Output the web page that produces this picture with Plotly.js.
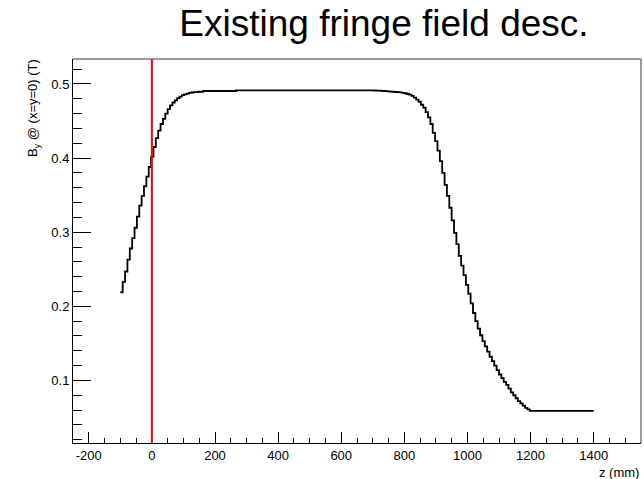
<!DOCTYPE html>
<html>
<head>
<meta charset="utf-8">
<script src="https://cdn.plot.ly/plotly-3.0.1.min.js"></script>
<style>html,body{margin:0;padding:0;background:#fff;}#chart{width:644px;height:479px;}</style>
</head>
<body>
<div id="chart"></div>
<script>
// Histogram definition: bin low edge and width (mm)
var binLow = -100;
var binWidth = 7.5;
// B_y (T) for each 7.5 mm bin from z=-100 to z=1400
var byValues = [
  0.219,0.233,0.247,0.263,0.278,0.292,0.306,0.321,0.336,0.349,
  0.362,0.375,0.388,0.402,0.415,0.427,0.437,0.446,0.453,0.460,
  0.466,0.471,0.475,0.478,0.481,0.483,0.485,0.486,0.487,0.488,
  0.4885,0.489,0.489,0.4895,0.4895,0.4905,0.4905,0.4905,0.4905,0.4905,
  0.4905,0.4905,0.4905,0.4905,0.4905,0.4905,0.4905,0.4905,0.4905,0.4915,
  0.4915,0.4915,0.4915,0.4915,0.4915,0.4915,0.4915,0.4915,0.4915,0.4915,
  0.4915,0.4915,0.4915,0.4915,0.4915,0.4915,0.4915,0.4915,0.4915,0.4915,
  0.4915,0.4915,0.4915,0.4915,0.4915,0.4915,0.4915,0.4915,0.4915,0.4915,
  0.4915,0.4915,0.4915,0.4915,0.4915,0.4915,0.4915,0.4915,0.4915,0.4915,
  0.4915,0.4915,0.4915,0.4915,0.4915,0.4915,0.4915,0.4915,0.4915,0.4915,
  0.4915,0.4915,0.4915,0.4915,0.4915,0.4915,0.4915,0.4912,0.491,0.491,
  0.4908,0.4905,0.4903,0.490,0.4898,0.4895,0.4892,0.489,0.4886,0.488,
  0.4875,0.4865,0.4855,0.484,0.4815,0.479,0.476,0.472,0.468,0.462,
  0.455,0.446,0.434,0.423,0.410,0.396,0.380,0.364,0.349,0.333,
  0.316,0.299,0.284,0.268,0.255,0.242,0.229,0.217,0.204,0.191,
  0.180,0.170,0.161,0.153,0.146,0.139,0.132,0.126,0.120,0.114,
  0.108,0.103,0.098,0.094,0.089,0.084,0.080,0.076,0.072,0.069,
  0.066,0.063,0.061,0.059,0.059,0.059,0.059,0.059,0.059,0.059,
  0.059,0.059,0.059,0.059,0.059,0.059,0.059,0.059,0.059,0.059,
  0.059,0.059,0.059,0.059,0.059,0.059,0.059,0.059,0.059,0.059
];
// Vertical marker position (mm)
var markerZ = [0];
var xRange = [-250, 1550];
var yRange = [0.0156, 0.5337];
var xTickVals = [-200, 0, 200, 400, 600, 800, 1000, 1200, 1400];
var xTickText = ['-200', '0', '200', '400', '600', '800', '1000', '1200', '1400'];
var titleText = 'Existing fringe field desc.';
var xTitle = 'z (mm)';
var yTitle = 'B<sub>y</sub> @ (x=y=0) (T)';

// build step histogram edges
var xs = [], ys = [];
for (var i = 0; i < byValues.length; i++) {
  xs.push(binLow + i * binWidth);
  ys.push(byValues[i]);
}
xs.push(binLow + byValues.length * binWidth);
ys.push(byValues[byValues.length - 1]);

var font = 'Liberation Sans, Arial, Helvetica, sans-serif';

var trace = {
  x: xs, y: ys, type: 'scatter', mode: 'lines',
  line: {shape: 'hv', color: '#000000', width: 1.8},
  hoverinfo: 'skip'
};

var layout = {
  width: 644, height: 479,
  margin: {l: 73, r: 3, t: 59, b: 36},
  paper_bgcolor: '#ffffff', plot_bgcolor: '#ffffff',
  showlegend: false,
  font: {family: font, size: 13, color: '#000'},
  title: {text: titleText, font: {family: font, size: 37, color: '#000'},
          x: 384/644, xanchor: 'center', xref: 'container', yref: 'container', y: 1 - 23/479, yanchor: 'middle'},
  xaxis: {
    range: xRange, showgrid: false, zeroline: false,
    showline: true, linecolor: '#000', linewidth: 1,
    ticks: 'inside', ticklen: 11, tickwidth: 1, tickcolor: '#000',
    tickmode: 'array', tickvals: xTickVals, ticktext: xTickText,
    minor: {ticks: 'inside', ticklen: 5, tickwidth: 1, tickcolor: '#000', tick0: 0, dtick: 50, showgrid: false},
    tickfont: {family: font, size: 13, color: '#000'}
  },
  yaxis: {
    range: yRange, showgrid: false, zeroline: false,
    showline: true, linecolor: '#000', linewidth: 1,
    ticks: 'inside', ticklen: 18, tickwidth: 1, tickcolor: '#000',
    tick0: 0, dtick: 0.1,
    minor: {ticks: 'inside', ticklen: 9, tickwidth: 1, tickcolor: '#000', dtick: 0.02, showgrid: false},
    tickfont: {family: font, size: 13, color: '#000'}
  },
  shapes: [
    {type: 'line', xref: 'paper', yref: 'paper', x0: 0, x1: 1, y0: 1, y1: 1, line: {color: '#7a7a7a', width: 1.5}},
    {type: 'line', xref: 'paper', yref: 'paper', x0: 1, x1: 1, y0: 0, y1: 1, line: {color: '#7a7a7a', width: 1.5}},
    {type: 'line', xref: 'x', yref: 'paper', x0: markerZ[0], x1: markerZ[0], y0: 0, y1: 1, layer: 'above', line: {color: '#ff0000', width: 2}}
  ],
  annotations: [
    {text: yTitle, xref: 'paper', yref: 'paper', x: -40/568, y: 1.005, xanchor: 'center', yanchor: 'top',
     textangle: -90, showarrow: false, font: {family: font, size: 13, color: '#000'}},
    {text: xTitle, xref: 'paper', yref: 'paper', x: 1, y: -29/384, xanchor: 'right', yanchor: 'middle',
     showarrow: false, font: {family: font, size: 13, color: '#000'}}
  ]
};

Plotly.newPlot('chart', [trace], layout, {staticPlot: true, displayModeBar: false});
</script>
</body>
</html>
